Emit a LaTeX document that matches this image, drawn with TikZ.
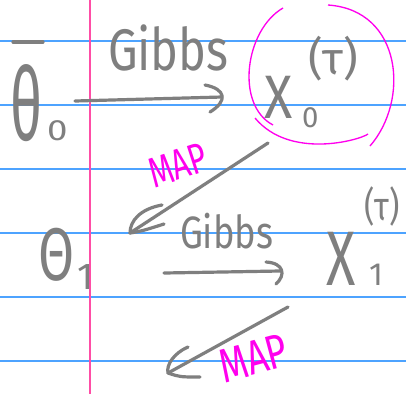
\documentclass[tikz,border=0pt]{standalone}
\usepackage{fontspec}
\setmainfont{Fira Sans}
\usetikzlibrary{calc}
\definecolor{ruleblue}{HTML}{4DA3FF}
\definecolor{marginpink}{HTML}{FF4DA6}
\definecolor{ink}{HTML}{7F7F7F}
\definecolor{hilite}{HTML}{FF00EE}
\tikzset{
  rule/.style={ruleblue, line width=1.1pt},
  margin/.style={marginpink, line width=1.5pt},
  hand/.style={ink, inner sep=0pt, outer sep=0pt},
  redhand/.style={hilite, inner sep=0pt, outer sep=0pt},
  stroke/.style={ink, line width=2.4pt, line cap=round, line join=round},
  ring/.style={hilite, line width=1pt}
}
\begin{document}
\begin{tikzpicture}[x=0.75pt, y=-0.75pt]
\useasboundingbox[fill=white] (0,0) rectangle (406,394);
% ruled lines
\foreach \yy in {41,105,169,233,297,361} \draw[rule] (0,\yy) -- (406,\yy);
\draw[margin] (90,0) -- (90,394);
% nodes
\node[hand, anchor=base west, xscale=0.55] (theta0) at (10,140) {\fontsize{76}{80}\selectfont θ};
\draw[stroke] (13,42) -- (43,42);
\node[hand, anchor=base west, xscale=1.25] (theta0sub) at (47,140) {\fontsize{22}{24}\selectfont 0};
\node[hand, anchor=base west, xscale=0.8] (gibbs0) at (108,70) {\fontsize{44}{48}\selectfont Gibbs};
\node[hand, anchor=base west, xscale=0.85] (x0) at (264,118) {\fontsize{46}{50}\selectfont X};
\node[hand, anchor=base west] (x0sub) at (302,127) {\fontsize{22}{24}\selectfont 0};
\node[hand, anchor=base west] (x0sup) at (308,74) {\fontsize{34}{36}\selectfont (τ)};
\node[hand, anchor=base west, xscale=0.7] (theta1) at (38,280) {\fontsize{56}{60}\selectfont Θ};
\node[hand, anchor=base west] (theta1sub) at (77,289) {\fontsize{28}{30}\selectfont 1};
\node[hand, anchor=base west, xscale=0.8] (gibbs1) at (180,248) {\fontsize{34}{36}\selectfont Gibbs};
\node[hand, anchor=base west, xscale=0.7] (x1) at (326,285) {\fontsize{58}{62}\selectfont X};
\node[hand, anchor=base west] (x1sub) at (369,285) {\fontsize{24}{26}\selectfont 1};
\node[hand, anchor=base west, xscale=0.8] (x1sup) at (364,220) {\fontsize{30}{32}\selectfont (τ)};
\node[redhand, anchor=base west, rotate=18, xscale=0.72] (map0) at (154,188) {\fontsize{32}{34}\selectfont MAP};
\node[redhand, anchor=base west, rotate=15, xscale=0.75] (map1) at (224,383) {\fontsize{36}{38}\selectfont MAP};
% ring round X0
\draw[ring] (283,8) .. controls (245,30) and (235,105) .. (273,125);
\draw[ring] (255,118) .. controls (290,160) and (360,140) .. (368,134);
\draw[ring] (328,5) .. controls (402,10) and (410,100) .. (370,146);
% arrows
\coordinate (g0s) at (75,101);
\coordinate (g0e) at (222,97);
\coordinate (m0s) at (268,143);
\coordinate (m0e) at (130,233);
\coordinate (g1s) at (164,273);
\coordinate (g1e) at (280,271);
\coordinate (m1s) at (288,307);
\coordinate (m1e) at (168,373);
\draw[stroke] (g0s) -- (g0e);
\draw[stroke] ($(g0e)+(-17,-12)$) .. controls ($(g0e)+(4,-8)$) and ($(g0e)+(6,4)$) .. ($(g0e)+(-12,15)$);
\draw[stroke] (m0s) -- (m0e);
\draw[stroke] ($(m0e)+(32,-28)$) .. controls ($(m0e)+(10,-24)$) and ($(m0e)+(0,-12)$) .. (m0e) .. controls ($(m0e)+(12,-2)$) .. ($(m0e)+(34,-9)$);
\draw[stroke] (g1s) -- (g1e);
\draw[stroke] ($(g1e)+(-14,-9)$) .. controls ($(g1e)+(4,-8)$) and ($(g1e)+(6,4)$) .. ($(g1e)+(-4,13)$);
\draw[stroke] (m1s) -- (m1e);
\draw[stroke] ($(m1e)+(20,-26)$) .. controls ($(m1e)+(6,-20)$) and ($(m1e)+(-2,-8)$) .. (m1e) .. controls ($(m1e)+(12,4)$) .. ($(m1e)+(32,4)$);
\end{tikzpicture}
\end{document}
